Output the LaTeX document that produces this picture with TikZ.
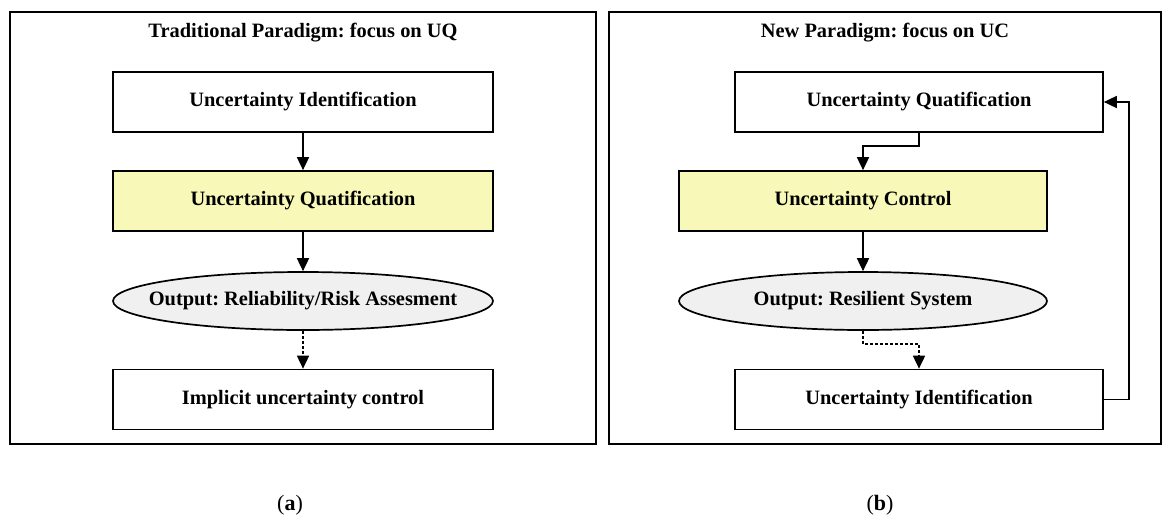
\documentclass[tikz,border=0pt]{standalone}
\usepackage{fontspec}
\setmainfont{Liberation Serif}
\usetikzlibrary{shapes.geometric,arrows.meta}
\definecolor{boxyellow}{HTML}{F8F8B8}
\definecolor{ellgray}{HTML}{F0F0F0}
\frenchspacing
\tikzset{
  frame/.style={draw=black,line width=1.8pt},
  title/.style={font=\bfseries\fontsize{20.4}{24}\selectfont,inner sep=0pt},
  stepbox/.style={draw=black,line width=1.7pt,rectangle,minimum height=60pt,inner sep=0pt,font=\bfseries\fontsize{20.4}{24}\selectfont,fill=white},
  yellowbox/.style={stepbox,fill=boxyellow},
  outell/.style={draw=black,line width=1.7pt,ellipse,minimum height=58pt,inner xsep=-30pt,inner ysep=0pt,fill=ellgray,font=\bfseries\fontsize{20.4}{24}\selectfont},
  arr/.style={line width=1.7pt,-{Triangle[width=12pt,length=13pt]}},
  dotarr/.style={arr,dash pattern=on 3pt off 2pt},
  caption/.style={font=\fontsize{22}{26}\selectfont,inner sep=0pt}
}
\begin{document}
\begin{tikzpicture}[x=1pt,y=-1pt]
\useasboundingbox[fill=white] (0,0) rectangle (1163,515);
% frames
\draw[frame] (10,12) rectangle (596,444);
\draw[frame] (609,12) rectangle (1161,444);
% left panel
\node[title] (tl) at (303,33) {Traditional Paradigm: focus on UQ};
\node[stepbox,minimum width=380pt] (l1) at (303,102) {Uncertainty Identification};
\node[yellowbox,minimum width=380pt] (l2) at (303,201) {Uncertainty Quatification};
\node[outell,minimum width=380pt] (l3) at (303,301) {Output: Reliability/Risk Assesment};
\node[stepbox,minimum width=380pt] (l4) at (303,399.5) {Implicit uncertainty control};
\draw[arr] (l1) -- (l2);
\draw[arr] (l2) -- (l3);
\draw[dotarr] (l3) -- (l4);
% right panel
\node[title] (tr) at (885,33) {New Paradigm: focus on UC};
\node[stepbox,minimum width=368pt] (r1) at (919,102) {Uncertainty Quatification};
\node[yellowbox,minimum width=368pt] (r2) at (863,201) {Uncertainty Control};
\node[outell,minimum width=368pt] (r3) at (863,301) {Output: Resilient System};
\node[stepbox,minimum width=368pt] (r4) at (919,399.5) {Uncertainty Identification};
\draw[arr] (r1.south) -- ++(0,13) -| (r2.north);
\draw[arr] (r2) -- (r3);
\draw[dotarr] (r3.south) -- ++(0,13) -| (r4.north);
\draw[arr] (r4.east) -- ++(25,0) |- (r1.east);
% captions
\node[caption] (ca) at (290,505) {(\textbf{a})};
\node[caption] (cb) at (880,505) {(\textbf{b})};
\end{tikzpicture}
\end{document}
